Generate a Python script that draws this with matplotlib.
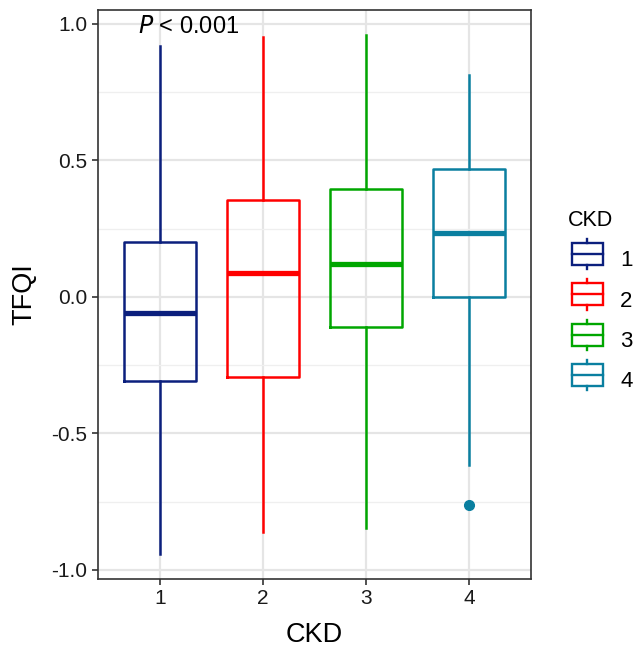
import numpy as np
import matplotlib
matplotlib.use('Agg')
import matplotlib.pyplot as plt
from matplotlib.lines import Line2D
from matplotlib.legend_handler import HandlerBase
from matplotlib.patches import Rectangle

plt.rcParams['font.family'] = ['Liberation Sans', 'DejaVu Sans']

# data
groups = ['1', '2', '3', '4']
whisker_low = [-0.94, -0.86, -0.847, -0.615]
q1 = [-0.307, -0.293, -0.11, 0.0]
median = [-0.057, 0.088, 0.121, 0.234]
q3 = [0.201, 0.355, 0.396, 0.469]
whisker_high = [0.919, 0.952, 0.96, 0.813]
outliers = [[], [], [], [-0.762]]
colors = ['#0B1F7D', '#FF0000', '#00A600', '#0A7FA0']

fig = plt.figure(figsize=(6.34, 6.49), dpi=100)
ax = fig.add_axes([98 / 634, 1 - 579 / 649, 433 / 634, 569 / 649])

positions = np.arange(1, len(groups) + 1)
for i in range(len(groups)):
    st = [{'whislo': whisker_low[i], 'q1': q1[i], 'med': median[i],
           'q3': q3[i], 'whishi': whisker_high[i], 'fliers': outliers[i]}]
    c = colors[i]
    ax.bxp(st, positions=[positions[i]], widths=0.7, showcaps=False,
           boxprops=dict(color=c, linewidth=1.8),
           whiskerprops=dict(color=c, linewidth=1.8),
           medianprops=dict(color=c, linewidth=3.8, solid_capstyle='butt'),
           flierprops=dict(marker='o', markerfacecolor=c, markeredgecolor=c,
                           markersize=7),
           zorder=3)

ax.set_xlim(0.4, 4.6)
ax.set_ylim(-1.033, 1.051)
ax.set_xticks(positions)
ax.set_xticklabels(groups)
ax.set_yticks([-1.0, -0.5, 0.0, 0.5, 1.0])
ax.set_yticklabels(['-1.0', '-0.5', '0.0', '0.5', '1.0'])
ax.set_yticks([-0.75, -0.25, 0.25, 0.75], minor=True)
ax.grid(True, which='major', color='#E5E5E5', linewidth=1.6, zorder=0)
ax.grid(True, which='minor', axis='y', color='#EFEFEF', linewidth=0.9, zorder=0)
ax.set_axisbelow(True)
ax.tick_params(axis='both', which='major', labelsize=15, length=4, width=1.2,
               color='#333333', labelcolor='#1A1A1A')
ax.tick_params(axis='y', which='minor', length=0)
for s in ax.spines.values():
    s.set_color('#333333')
    s.set_linewidth(1.2)

ax.set_xlabel('CKD', fontsize=19.5, labelpad=10)
ax.set_ylabel('TFQI', fontsize=19.5, labelpad=10)

ax.text(1.28, 0.99, r'$\it{P}$ < 0.001', fontsize=17, ha='center', va='center')


class BoxKey(HandlerBase):
    def create_artists(self, legend, orig, xd, yd, w, h, fontsize, trans):
        c = orig.get_color()
        bx = xd + w * 0.1
        bw = w * 0.8
        cy = yd + h / 2
        rect = Rectangle((bx, cy - h * 0.55), bw, h * 1.1, fill=False,
                         edgecolor=c, linewidth=1.7, transform=trans)
        med = Line2D([bx, bx + bw], [cy, cy], color=c,
                     linewidth=1.7, transform=trans)
        top = Line2D([xd + w / 2, xd + w / 2], [cy + h * 0.55, cy + h * 0.76],
                     color=c, linewidth=1.7, transform=trans)
        bot = Line2D([xd + w / 2, xd + w / 2], [cy - h * 0.55, cy - h * 0.76],
                     color=c, linewidth=1.7, transform=trans)
        return [rect, med, top, bot]


handles = [Line2D([], [], color=c) for c in colors]
leg = fig.legend(handles, groups, title='CKD', loc='upper left',
                 bbox_to_anchor=(548 / 634, 1 - 190 / 649), frameon=False,
                 fontsize=16, title_fontsize=15.5, handler_map={Line2D: BoxKey()},
                 handlelength=1.75, handleheight=1.0, labelspacing=0.8,
                 handletextpad=0.6, alignment='left')

fig.savefig('out.png', dpi=100)
